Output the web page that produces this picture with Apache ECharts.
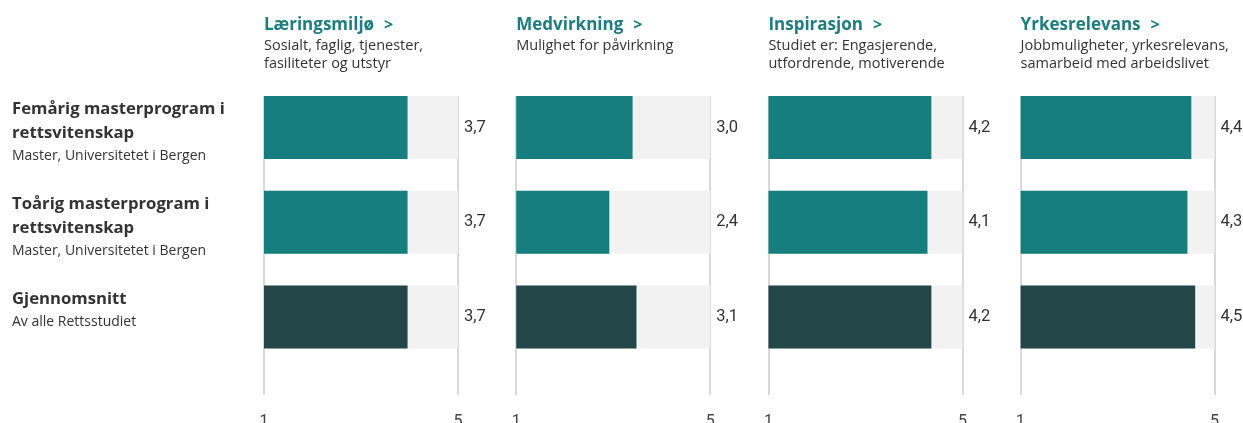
<!DOCTYPE html>
<html><head><meta charset="utf-8">
<script src="https://cdn.jsdelivr.net/npm/echarts@6/dist/echarts.min.js"></script>
<style>html,body{margin:0;padding:0;background:#fff}#c{width:1243px;height:423px}</style>
</head><body><div id="c"></div>
<script>
// ---- data ----
const rowNames = ["Femårig masterprogram i\nrettsvitenskap", "Toårig masterprogram i\nrettsvitenskap", "Gjennomsnitt"];
const rowSubs = ["Master, Universitetet i Bergen", "Master, Universitetet i Bergen", "Av alle Rettsstudiet"];
const panelTitles = ["Læringsmiljø", "Medvirkning", "Inspirasjon", "Yrkesrelevans"];
const panelSubs = ["Sosialt, faglig, tjenester,\nfasiliteter og utstyr", "Mulighet for påvirkning", "Studiet er: Engasjerende,\nutfordrende, motiverende", "Jobbmuligheter, yrkesrelevans,\nsamarbeid med arbeidslivet"];
const laeringsmiljo = [3.7, 3.7, 3.7];
const medvirkning = [3.0, 2.4, 3.1];
const inspirasjon = [4.2, 4.1, 4.2];
const yrkesrelevans = [4.4, 4.3, 4.5];
const tickLabels = ["1", "5"];

// ---- layout / style ----
const panels = [laeringsmiljo, medvirkning, inspirasjon, yrkesrelevans];
const L0 = 264, STEP = 252.2, W = 194;
const TEAL = '#177e80', DARK = '#234649', TITLE = '#1c7e80', TXT = '#333333';
const SANS = '"Open Sans", "Noto Sans", sans-serif';
const COND = 'Roboto, "Open Sans", sans-serif';
const fmt = v => v.toFixed(1).replace('.', ',');

const grid = [], xAxis = [], yAxis = [], series = [], title = [];
const cats = rowNames.map((_, i) => 'r' + i);

panels.forEach((vals, p) => {
  const left = L0 + p * STEP;
  const gb = p * 2, gl = p * 2 + 1;
  grid.push({ left: left, width: W, top: 80, height: 284.5, outerBoundsMode: 'none', containLabel: false });
  grid.push({ left: left, width: W, top: 96, bottom: 28, outerBoundsMode: 'none', containLabel: false });
  xAxis.push({ gridIndex: gb, type: 'value', min: 0, max: 5, show: false });
  xAxis.push({
    gridIndex: gl, type: 'value', min: 0, max: 5, interval: 5,
    axisLine: { show: false }, axisTick: { show: false },
    splitLine: { show: true, lineStyle: { color: '#d9d9d9', width: 2 } },
    axisLabel: { formatter: (v) => tickLabels[v === 0 ? 0 : 1], margin: 19, fontFamily: COND, fontSize: 16, color: '#444' }
  });
  const leftY = yAxis.length;
  yAxis.push({
    gridIndex: gb, type: 'category', data: cats, inverse: true,
    axisLine: { show: false }, axisTick: { show: false }, splitLine: { show: false },
    axisLabel: p === 0 ? {
      show: true, align: 'left', margin: 252, verticalAlign: 'middle', padding: [10, 0, 0, 0],
      formatter: (v, i) => {
        const names = rowNames[i].split('\n').map(l => '{b|' + l + '}');
        const lines = names.concat(['{s|' + rowSubs[i] + '}']);
        while (lines.length < 3) lines.push('{e| }');
        return lines.join('\n');
      },
      rich: {
        b: { fontFamily: SANS, fontWeight: 'bold', fontSize: 16.7, color: TXT, lineHeight: 24 },
        s: { fontFamily: SANS, fontSize: 14, color: TXT, lineHeight: 22 },
        e: { fontSize: 14, lineHeight: 24 }
      }
    } : { show: false }
  });
  yAxis.push({
    gridIndex: gb, type: 'category', data: cats, inverse: true, position: 'right',
    axisLine: { show: false }, axisTick: { show: false }, splitLine: { show: false },
    axisLabel: { margin: 6, formatter: (v, i) => fmt(vals[i]), fontFamily: COND, fontSize: 16.5, color: TXT }
  });
  yAxis.push({ gridIndex: gl, type: 'value', show: false, min: 0, max: 1 });
  series.push({
    type: 'bar', xAxisIndex: gb, yAxisIndex: leftY, barWidth: 63,
    showBackground: true, backgroundStyle: { color: '#f2f2f2' },
    data: vals.map((v, i) => ({ value: v, itemStyle: { color: i === 2 ? DARK : TEAL } })),
    silent: true, animation: false
  });
  title.push({
    left: left, top: 15, itemGap: 5, padding: 0,
    text: '{t|' + panelTitles[p] + '}{a|>}',
    textStyle: { rich: {
      t: { fontFamily: SANS, fontWeight: 'bold', fontSize: 17, color: TITLE, lineHeight: 20 },
      a: { fontFamily: SANS, fontWeight: 'bold', fontSize: 16, color: TITLE, lineHeight: 20, padding: [0, 0, 0, 10] }
    } },
    subtext: panelSubs[p],
    subtextStyle: { fontFamily: SANS, fontSize: 14.5, color: TXT, lineHeight: 18 }
  });
});

const chart = echarts.init(document.getElementById('c'), null, { renderer: 'canvas' });
chart.setOption({ animation: false, title, grid, xAxis, yAxis, series });
</script>
</body></html>
